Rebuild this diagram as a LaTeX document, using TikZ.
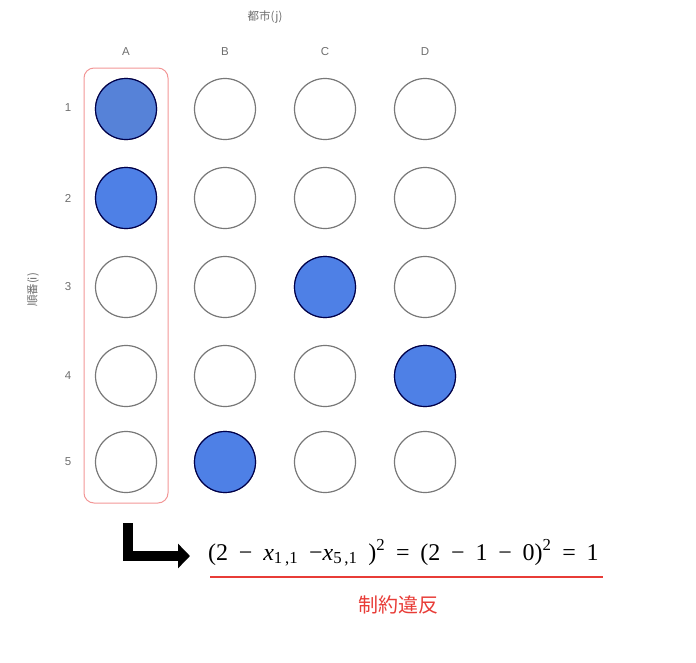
\documentclass[tikz,border=0pt]{standalone}
\usepackage{fontspec}
\setmainfont{Liberation Serif}
\setsansfont{Liberation Sans}
\newfontfamily\cjk{Noto Sans CJK JP}
\usetikzlibrary{arrows.meta}
\definecolor{cfill}{RGB}{78,128,230}
\definecolor{cfillA}{RGB}{86,130,216}
\definecolor{cedge}{RGB}{120,120,120}
\definecolor{labgray}{RGB}{110,110,110}
\definecolor{boxred}{RGB}{242,150,150}
\definecolor{vred}{RGB}{232,60,55}
\newcommand\gp{\hspace{0.45em}}
\tikzset{
  cell/.style={circle, draw=cedge, line width=1.2pt, minimum size=61pt, inner sep=0pt, fill=white},
  on/.style={cell, fill=cfill, draw=black!70!blue},
  lab/.style={font=\sffamily\fontsize{11.5}{13}\selectfont, text=labgray, inner sep=0pt},
  cjklab/.style={font=\cjk\fontsize{11.5}{13}\selectfont, text=labgray, inner sep=0pt},
}
\begin{document}
\begin{tikzpicture}[x=1pt,y=-1pt]
\useasboundingbox (0,0) rectangle (696,662);
\node[cjklab] (title) at (265,17) {都市(j)};
\node[cjklab, rotate=90] (ylab) at (33,290) {順番(i)};
\foreach \c/\x in {A/126,B/225,C/325,D/425}
  \node[lab] (col\c) at (\x,52) {\c};
\foreach \r/\y in {1/108,2/198,3/287,4/376,5/462}
  \node[lab] (row\r) at (68,\y) {\r};
% column A highlight box
\draw[boxred, line width=1pt, rounded corners=10pt] (84,68) rectangle (168,503);
% circles
\foreach \c/\x in {A/126,B/225,C/325,D/425}
  \foreach \r/\y in {1/109,2/198,3/287,4/376,5/462}
    \node[cell] (n\c\r) at (\x,\y) {};
\node[on, fill=cfillA] at (nA1) {};
\node[on] at (nA2) {};
\node[on] at (nC3) {};
\node[on] at (nD4) {};
\node[on] at (nB5) {};
% arrow
\coordinate (a0) at (128,523);
\coordinate (a1) at (128,556);
\coordinate (a2) at (190,556);
\draw[black, line width=10pt, -{Triangle[length=12pt,width=24pt]}] (a0) -- (a1) -- (a2);
% equation
\node[anchor=base west, inner sep=0pt, font=\fontsize{24}{27}\selectfont] (eq) at (208,560)
  {(2\gp−\gp\textit{x}\textsubscript{1\,,1}\gp−\textit{x}\textsubscript{5\,,1}\gp)\textsuperscript{2}\gp=\gp(2\gp−\gp1\gp−\gp0)\textsuperscript{2}\gp=\gp1};
\coordinate (u0) at (210,577);
\coordinate (u1) at (603,577);
\draw[vred, line width=2.2pt] (u0) -- (u1);
\node[font=\cjk\fontsize{20}{24}\selectfont, text=vred, inner sep=0pt] (viol) at (398,605) {制約違反};
\end{tikzpicture}
\end{document}
